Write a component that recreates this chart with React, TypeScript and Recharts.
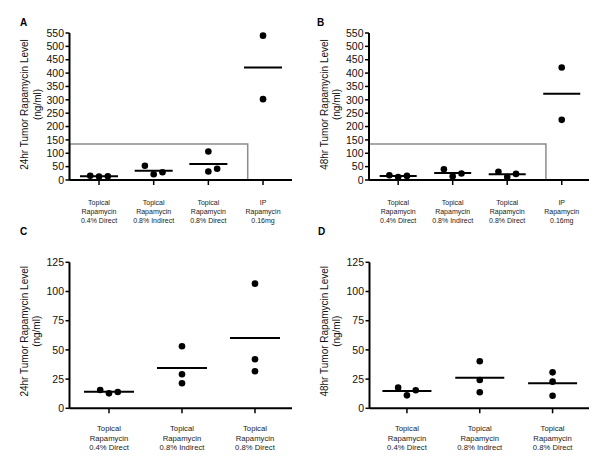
import React from "react";
import { ReferenceArea, Scatter, ScatterChart, XAxis, YAxis } from "recharts";

// group labels (one entry per line of the tick label)
const GROUPS = [
  ["Topical", "Rapamycin", "0.4% Direct"],
  ["Topical", "Rapamycin", "0.8% Indirect"],
  ["Topical", "Rapamycin", "0.8% Direct"],
  ["IP", "Rapamycin", "0.16mg"],
];

// tumor rapamycin levels (ng/ml)
const LEVELS_24HR = [
  [15.7, 12.8, 14.0],
  [53.1, 21.4, 29.1],
  [106.7, 31.7, 42.0],
  [540, 302.5],
];
const LEVELS_48HR = [
  [17.7, 11.1, 15.4],
  [40.3, 13.8, 24.2],
  [30.8, 10.8, 22.8],
  [421, 225],
];

const TICKS_FULL = [0, 50, 100, 150, 200, 250, 300, 350, 400, 450, 500, 550];
const TICKS_ZOOM = [0, 25, 50, 75, 100, 125];
const INSET_TOP = 135; // zoom box drawn on A / B

// horizontal jitter slots (layout only)
const JITTER_A = [[-1, 0, 1], [-1, 0, 1], [0, 0, 1], [0, 0]];
const JITTER_B = [[-1, 0, 1], [-1, 0, 1], [-1, 0, 1], [0, 0]];
const JITTER_CD = [[-1, 0, 1], [0, 0, 0], [0, 0, 0]];

const FONT = "'Liberation Sans', Arial, sans-serif";
const JITTER_PX = 8.8;

function YTitle(props: any) {
  const { viewBox, title, shift } = props;
  const axisX = viewBox.x + viewBox.width;
  const x1 = axisX - 45;
  const x2 = axisX - 32.5;
  const cy = viewBox.y + viewBox.height / 2 + shift;
  return (
    <g fontFamily={FONT} fontSize={10} fill="#111">
      <text x={x1} y={cy} textAnchor="middle" dominantBaseline="central" transform={`rotate(-90 ${x1} ${cy})`}>
        {title}
      </text>
      <text x={x2} y={cy} textAnchor="middle" dominantBaseline="central" transform={`rotate(-90 ${x2} ${cy})`}>
        (ng/ml)
      </text>
    </g>
  );
}

function GroupTick(props: any) {
  const { x, y, payload, offset, step, size } = props;
  const lines = GROUPS[payload.value - 1] || [];
  return (
    <g fontFamily={FONT} fontSize={size} fill="#222">
      {lines.map((l: string, i: number) => (
        <text key={i} x={x} y={y + offset + i * step} textAnchor="middle">
          {l}
        </text>
      ))}
    </g>
  );
}

function Panel(p: any) {
  const n = p.levels.length;
  const points = p.levels.flatMap((vals: number[], g: number) =>
    vals.map((v, k) => ({ x: g + 1, y: v, j: p.jitter[g][k] }))
  );
  const means = p.levels.map((vals: number[], g: number) => ({
    x: g + 1,
    y: vals.reduce((s, v) => s + v, 0) / vals.length,
  }));
  const ticks = Array.from({ length: n }, (_, i) => i + 1);
  return (
    <div style={{ position: "absolute", left: p.left, top: p.top }}>
      <ScatterChart
        width={300}
        height={231}
        margin={{ top: p.plotTop - p.top, right: p.left + 300 - p.plotRight, bottom: 0, left: 0 }}
      >
        <XAxis
          type="number"
          dataKey="x"
          domain={p.domain}
          ticks={ticks}
          allowDataOverflow
          height={p.top + 231 - p.plotBottom}
          axisLine={{ stroke: "#000", strokeWidth: 2 }}
          tickLine={{ stroke: "#000", strokeWidth: 1.5 }}
          tickSize={5}
          tickMargin={2}
          interval={0}
          tick={<GroupTick offset={p.labelOffset} step={p.labelStep} size={p.labelSize} />}
        />
        <YAxis
          type="number"
          dataKey="y"
          domain={[0, p.yTicks[p.yTicks.length - 1]]}
          ticks={p.yTicks}
          interval={0}
          width={p.plotLeft - p.left}
          axisLine={{ stroke: "#000", strokeWidth: 2 }}
          tickLine={{ stroke: "#000", strokeWidth: 1.5 }}
          tickSize={4}
          tickMargin={1.5}
          tick={{ fill: "#111", fontSize: 10.5, fontFamily: FONT }}
          label={<YTitle title={p.title} shift={p.titleShift} />}
        />
        {p.inset && (
          <ReferenceArea
            x1={p.domain[0]}
            x2={p.inset}
            y1={0}
            y2={INSET_TOP}
            fill="none"
            stroke="#8c8c8c"
            strokeWidth={1.5}
            fillOpacity={0}
          />
        )}
        <Scatter
          data={means}
          isAnimationActive={false}
          shape={(s: any) => (
            <line
              x1={s.cx - p.meanHalf}
              x2={s.cx + p.meanHalf}
              y1={s.cy}
              y2={s.cy}
              stroke="#000"
              strokeWidth={2}
            />
          )}
        />
        <Scatter
          data={points}
          isAnimationActive={false}
          shape={(s: any) => <circle cx={s.cx + s.payload.j * JITTER_PX} cy={s.cy} r={3.3} fill="#000" />}
        />
      </ScatterChart>
    </div>
  );
}

export default function App() {
  return (
    <div style={{ position: "relative", width: 600, height: 462, background: "#fff", overflow: "hidden" }}>
      <style>{`body{margin:0}`}</style>
      <Panel
        left={0} top={0} plotLeft={69.5} plotRight={292} plotTop={33} plotBottom={180}
        domain={[0.46, 4.53]} levels={LEVELS_24HR} jitter={JITTER_A} yTicks={TICKS_FULL}
        title="24hr Tumor Rapamycin Level" titleShift={-2} meanHalf={19} inset={3.72}
        labelOffset={17.5} labelStep={9} labelSize={7}
      />
      <Panel
        left={300} top={0} plotLeft={369} plotRight={589} plotTop={33} plotBottom={180}
        domain={[0.465, 4.5]} levels={LEVELS_48HR} jitter={JITTER_B} yTicks={TICKS_FULL}
        title="48hr Tumor Rapamycin Level" titleShift={-2} meanHalf={18.5} inset={3.71}
        labelOffset={17.5} labelStep={9} labelSize={7}
      />
      <Panel
        left={0} top={231} plotLeft={69.5} plotRight={292} plotTop={262.3} plotBottom={408.3}
        domain={[0.459, 3.507]} levels={LEVELS_24HR.slice(0, 3)} jitter={JITTER_CD} yTicks={TICKS_ZOOM}
        title="24hr Tumor Rapamycin Level" titleShift={-4} meanHalf={25}
        labelOffset={16} labelStep={9.2} labelSize={7.7}
      />
      <Panel
        left={300} top={231} plotLeft={369.5} plotRight={589} plotTop={262.3} plotBottom={408.3}
        domain={[0.486, 3.5]} levels={LEVELS_48HR.slice(0, 3)} jitter={JITTER_CD} yTicks={TICKS_ZOOM}
        title="48hr Tumor Rapamycin Level" titleShift={-4} meanHalf={24.5}
        labelOffset={16} labelStep={9.2} labelSize={7.7}
      />
      <svg width={600} height={462} style={{ position: "absolute", left: 0, top: 0, pointerEvents: "none" }}>
        <g fontFamily={FONT} fontSize={10} fontWeight="bold" fill="#000">
          <text x={20} y={25.5}>A</text>
          <text x={317} y={25.5}>B</text>
          <text x={20} y={234.5}>C</text>
          <text x={318} y={234.5}>D</text>
        </g>
      </svg>
    </div>
  );
}
